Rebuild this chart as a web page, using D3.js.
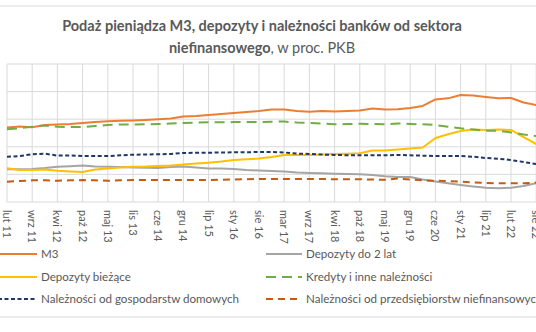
<html>
<head>
    <meta charset="UTF-8">
    <title>Podaż pieniądza M3</title>
    <script src="https://cdn.jsdelivr.net/npm/d3@7"></script>
    <style>
        body { margin: 0; background: #fff; }
        svg text { font-family: Lato, "Open Sans", sans-serif; fill: #595959; }
        .grid line { stroke: #d9d9d9; stroke-width: 1px; }
        .series path { fill: none; stroke-width: 2px; stroke-linejoin: round; }
    </style>
</head>
<body>
    <svg width="536" height="332"></svg>
    <script>
        // etykiety osi X (co ~6-7 miesiecy)
        var labels = ['lut 11','wrz 11','kwi 12','paź 12','maj 13','lis 13','cze 14','gru 14','lip 15','sty 16','sie 16',
                      'mar 17','wrz 17','kwi 18','paź 18','maj 19','gru 19','cze 20','sty 21','lip 21','lut 22','sie 22'];

        // % PKB, odczyt co pol odstepu etykiet
        var m3 = [54.0,54.7,54.1,55.8,56.2,56.5,57.2,58.0,58.5,58.9,59.1,59.4,59.9,60.5,62.0,62.3,63.0,63.8,64.5,65.2,65.9,67.0,
                  67.0,65.9,65.4,65.9,65.6,65.9,66.3,67.8,67.0,67.2,68.1,69.6,74.3,75.1,77.5,77.2,76.1,75.1,75.4,72.1,70.3,69.6];
        var dep2 = [23.7,23.7,23.9,24.6,25.6,25.9,26.4,25.7,25.6,25.4,25.0,24.8,24.6,25.4,25.7,25.0,24.3,24.3,23.9,23.2,22.8,22.5,
                    22.1,21.4,21.0,20.8,20.5,20.3,20.1,19.6,18.6,18.1,18.1,16.3,14.9,13.6,12.3,11.2,10.3,10.0,10.3,11.6,13.6,14.9];
        var depBiez = [24.4,23.2,23.2,23.6,22.7,22.1,21.7,23.6,24.3,25.0,25.6,25.7,26.1,26.4,27.2,27.9,28.5,29.3,30.4,30.9,31.5,32.6,
                       34.1,34.1,34.1,34.4,34.8,35.0,35.3,37.3,37.3,38.0,38.8,39.5,46.4,49.1,51.4,52.5,52.2,52.5,52.2,47.1,42.0,39.1];
        var kredyty = [52.7,53.4,54.6,55.4,54.6,54.3,54.3,55.1,55.8,56.2,56.2,56.3,56.5,56.9,57.2,57.6,57.7,57.8,57.9,58.0,58.0,58.2,
                       58.3,57.6,57.2,56.9,56.3,56.5,56.7,56.5,56.3,56.9,56.5,56.3,55.8,54.6,53.4,52.5,51.7,51.7,50.4,48.9,47.8,47.1];
        var gosp = [32.8,33.3,34.6,35.0,33.6,33.7,33.3,33.3,33.3,33.8,34.3,34.4,34.6,34.8,35.5,35.7,35.7,35.9,36.0,36.1,36.2,36.2,
                    35.9,35.1,34.8,34.4,34.1,33.9,33.8,33.8,33.8,34.1,33.8,33.6,33.3,33.3,33.3,32.8,31.9,31.4,30.4,29.0,27.5,26.8];
        var przeds = [14.7,15.2,15.7,15.7,15.4,15.7,15.9,15.7,15.4,15.7,15.9,15.9,15.9,15.9,15.9,15.9,15.9,16.2,16.3,16.5,16.7,16.7,
                      16.7,16.7,16.7,16.7,16.5,16.5,16.5,16.3,16.1,17.0,16.3,15.7,15.4,15.2,14.7,14.1,13.8,13.5,13.5,13.5,14.1,14.5];

        var yTicks = [0, 20, 40, 60, 80, 100];

        var series = [
            { name: 'M3', values: m3, color: '#ED7D31', dash: null },
            { name: 'Depozyty do 2 lat', values: dep2, color: '#A5A5A5', dash: null },
            { name: 'Depozyty bieżące', values: depBiez, color: '#FFC000', dash: null },
            { name: 'Kredyty i inne należności', values: kredyty, color: '#70AD47', dash: '10,6' },
            { name: 'Należności od gospodarstw domowych', values: gosp, color: '#1F3864', dash: '4,2.5' },
            { name: 'Należności od przedsiębiorstw niefinansowych', values: przeds, color: '#C55A11', dash: '7,5' }
        ];

        var svg = d3.select('svg');

        // ramka obszaru wykresu
        svg.append('rect')
            .attr('x', -1).attr('y', 6).attr('width', 538).attr('height', 311)
            .attr('fill', 'none').attr('stroke', '#d9d9d9');

        var x = d3.scaleLinear().domain([0, labels.length - 1]).range([7, 536.2]);
        var y = d3.scaleLinear().domain([0, 100]).range([202, 64]);

        // tytul
        var title = svg.append('text').attr('text-anchor', 'middle').attr('font-size', 14.5);
        title.append('tspan').attr('x', 262).attr('y', 31)
            .attr('font-weight', 'bold').text('Podaż pieniądza M3, depozyty i należności banków od sektora');
        var t2 = title.append('tspan').attr('x', 262).attr('y', 53);
        t2.append('tspan').attr('font-weight', 'bold').text('niefinansowego');
        t2.append('tspan').text(', w proc. PKB');

        // siatka
        var grid = svg.append('g').attr('class', 'grid');
        grid.selectAll('.h').data(yTicks).enter().append('line')
            .attr('x1', 7).attr('x2', 560)
            .attr('y1', d => y(d)).attr('y2', d => y(d));
        grid.selectAll('.v').data(labels).enter().append('line')
            .attr('x1', (d, i) => x(i)).attr('x2', (d, i) => x(i))
            .attr('y1', y(100)).attr('y2', y(0));

        // os X
        svg.append('g').selectAll('text').data(labels).enter().append('text')
            .attr('font-size', 11)
            .attr('transform', (d, i) => 'translate(' + (x(i) - 4) + ',210) rotate(90)')
            .text(d => d);

        // linie
        var line = d3.line()
            .x((d, i) => x(i / 2))
            .y(d => y(d));

        svg.append('g').attr('class', 'series')
            .selectAll('path').data(series).enter().append('path')
            .attr('stroke', d => d.color)
            .attr('stroke-dasharray', d => d.dash)
            .attr('d', d => line(d.values));

        // legenda
        var legend = svg.append('g').attr('class', 'series');
        var lx = [[-2, 37], [266, 302]], ly = [254, 277, 299];
        series.forEach((s, i) => {
            var col = i % 2, row = Math.floor(i / 2);
            legend.append('path')
                .attr('d', 'M' + lx[col][0] + ',' + ly[row] + 'H' + lx[col][1])
                .attr('stroke', s.color)
                .attr('stroke-dasharray', s.dash);
            legend.append('text')
                .attr('x', lx[col][1] + 4).attr('y', ly[row] + 4)
                .attr('font-size', 11.6)
                .text(s.name);
        });
    </script>
</body>
</html>
